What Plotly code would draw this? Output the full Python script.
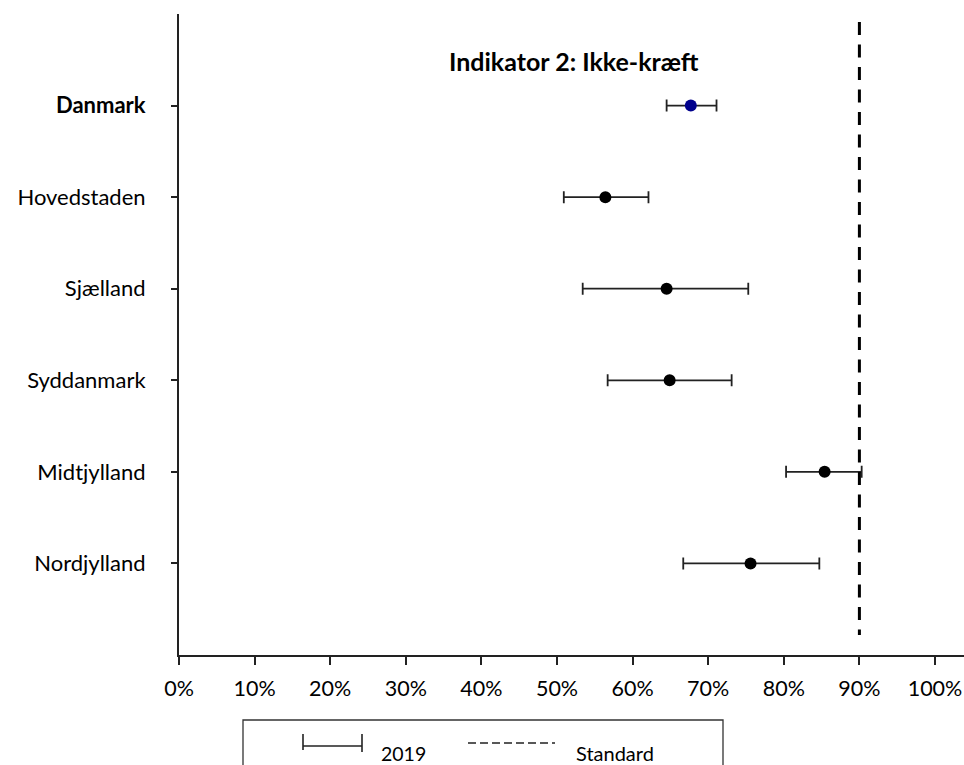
import plotly.graph_objects as go

regions = ["Danmark", "Hovedstaden", "Sjælland", "Syddanmark", "Midtjylland", "Nordjylland"]
values = [0.677, 0.564, 0.645, 0.649, 0.854, 0.756]
lower = [0.645, 0.509, 0.534, 0.567, 0.803, 0.667]
upper = [0.711, 0.621, 0.753, 0.731, 0.903, 0.847]
standard = 0.90
x_ticks = [0, 0.1, 0.2, 0.3, 0.4, 0.5, 0.6, 0.7, 0.8, 0.9, 1.0]
x_tick_labels = ["0%", "10%", "20%", "30%", "40%", "50%", "60%", "70%", "80%", "90%", "100%"]
title_text = "Indikator 2: Ikke-kræft"
legend_year = "2019"
legend_standard = "Standard"

FONT = "Lato"
W, H = 964, 765
# plot area in page pixels
PL, PR, PT, PB = 179, 964, 14, 655
ML = PL
MT = PT
MR = W - PR
MB = H - PB
PW = PR - PL
PH = PB - PT

def px_x(px):
    return (px - PL) / PW

def px_y(py):
    return (PB - py) / PH

ypos = list(range(1, len(regions) + 1))
colors = ["rgb(0,0,140)"] + ["black"] * (len(regions) - 1)

fig = go.Figure()
fig.add_trace(go.Scatter(
    x=values, y=ypos, mode="markers",
    marker=dict(color=colors, size=12, line=dict(width=0)),
    error_x=dict(type="data", symmetric=False,
                 array=[u - v for u, v in zip(upper, values)],
                 arrayminus=[v - l for v, l in zip(values, lower)],
                 color="#222222", thickness=1.8, width=6),
    showlegend=False, hoverinfo="skip",
))

ticktext = [("<b>%s</b>" % r) if i == 0 else r for i, r in enumerate(regions)]

shapes = [
    dict(type="line", xref="x", yref="paper", x0=standard, x1=standard,
         y0=px_y(22), y1=px_y(635), line=dict(color="black", width=3, dash="13px,9.5px")),
    dict(type="rect", xref="paper", yref="paper", x0=px_x(243), x1=px_x(723),
         y0=px_y(790), y1=px_y(720), line=dict(color="#333333", width=1.3)),
    dict(type="line", xref="paper", yref="paper", x0=px_x(303), x1=px_x(362),
         y0=px_y(746), y1=px_y(746), line=dict(color="#222222", width=1.6)),
    dict(type="line", xref="paper", yref="paper", x0=px_x(303), x1=px_x(303),
         y0=px_y(734), y1=px_y(750), line=dict(color="#222222", width=1.6)),
    dict(type="line", xref="paper", yref="paper", x0=px_x(362), x1=px_x(362),
         y0=px_y(734), y1=px_y(752), line=dict(color="#222222", width=1.6)),
    dict(type="line", xref="paper", yref="paper", x0=px_x(468), x1=px_x(555),
         y0=px_y(743), y1=px_y(743), line=dict(color="#222222", width=1.5, dash="8px,4px")),
]

annotations = [
    dict(text="<b>%s</b>" % title_text, xref="paper", yref="paper", x=px_x(574), y=px_y(61),
         xanchor="center", yanchor="middle", showarrow=False,
         font=dict(family=FONT, size=25, color="black")),
    dict(text=legend_year, xref="paper", yref="paper", x=px_x(379), y=px_y(753),
         xanchor="left", yanchor="middle", showarrow=False,
         font=dict(family=FONT, size=19.5, color="black")),
    dict(text=legend_standard, xref="paper", yref="paper", x=px_x(574), y=px_y(753),
         xanchor="left", yanchor="middle", showarrow=False,
         font=dict(family=FONT, size=20, color="black")),
]

fig.update_layout(
    width=W, height=H,
    margin=dict(l=ML, r=MR, t=MT, b=MB, pad=0),
    paper_bgcolor="white", plot_bgcolor="white",
    font=dict(family=FONT, color="black"),
    shapes=shapes, annotations=annotations,
    showlegend=False,
    xaxis=dict(range=[0, PW / 756.0], tickvals=x_ticks, ticktext=x_tick_labels,
               showgrid=False, zeroline=False, showline=True, linecolor="#222222", linewidth=2,
               ticks="outside", ticklen=8, tickwidth=2, tickcolor="#222222",
               ticklabelstandoff=5, tickfont=dict(family=FONT, size=21.5, color="black")),
    yaxis=dict(range=[len(regions) + 1, 0], tickvals=ypos, ticktext=ticktext,
               showgrid=False, zeroline=False, showline=True, linecolor="#222222", linewidth=2,
               ticks="outside", ticklen=6, tickwidth=1.5, tickcolor="#222222",
               ticklabelstandoff=21, tickfont=dict(family=FONT, size=22, color="black")),
)

fig.write_html(
    "out.html",
    config={"displayModeBar": False},
    post_script="document.body.style.margin='0';document.body.style.overflow='hidden';"
                "document.documentElement.style.overflow='hidden';",
)
